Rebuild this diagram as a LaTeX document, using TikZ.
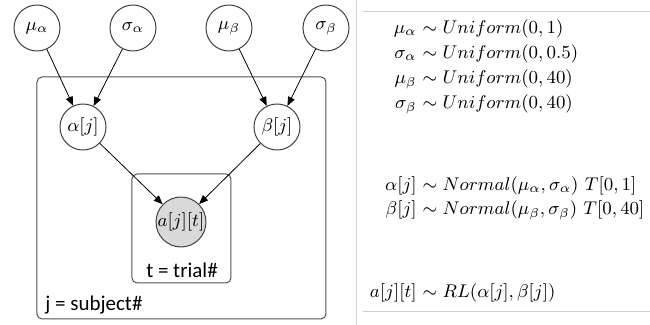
\RequirePackage{fix-cm}
\documentclass[tikz,border=0pt]{standalone}
\usepackage{fontspec}
\newfontfamily\calib{Carlito}
\usetikzlibrary{arrows.meta}
\definecolor{nodeline}{HTML}{404040}
\definecolor{platel}{HTML}{505050}
\definecolor{sepc}{HTML}{D0D0D0}
\definecolor{obsfill}{HTML}{D9D9D9}
\tikzset{
  var/.style={circle, draw=nodeline, line width=0.5pt, minimum size=23pt, inner sep=0pt, font=\fontsize{9.2}{11}\selectfont},
  obsvar/.style={var, fill=obsfill, minimum size=24.5pt},
  plate/.style={draw=platel, line width=0.5pt, rounded corners=2.5pt},
  edge/.style={-{Triangle[length=4.5pt,width=3.6pt]}, line width=0.4pt, black},
  platelabel/.style={font=\calib\fontsize{10.5}{12}\selectfont, inner sep=0pt},
  eqL/.style={anchor=base east, inner sep=0pt, font=\fontsize{9.2}{11}\selectfont},
  eqR/.style={anchor=base west, inner sep=0pt, font=\fontsize{9.2}{11}\selectfont},
  rulel/.style={draw=sepc, line width=0.5pt}
}
\begin{document}
\begin{tikzpicture}[x=0.5pt,y=-0.5pt]
\useasboundingbox (0,0) rectangle (650,325);
% plates
\draw[plate] (37,77) rectangle (326,319);
\draw[plate] (132,174) rectangle (231,283);
% nodes
\node[var] (mua) at (37,28) {$\mu_\alpha$};
\node[var] (siga) at (133,28) {$\sigma_\alpha$};
\node[var] (mub) at (229,28) {$\mu_\beta$};
\node[var] (sigb) at (326,28) {$\sigma_\beta$};
\node[var] (alpha) at (83,127) {$\alpha[j]$};
\node[var] (beta) at (277,127) {$\beta[j]$};
\node[obsvar] (act) at (181,222) {$a[j][t]$};
\node[platelabel] (tl) at (182,270) {t = trial\#};
\node[platelabel, anchor=west] (jl) at (45,305) {j = subject\#};
% edges
\draw[edge] (mua) -- (alpha);
\draw[edge] (siga) -- (alpha);
\draw[edge] (mub) -- (beta);
\draw[edge] (sigb) -- (beta);
\draw[edge] (alpha) -- (act);
\draw[edge] (beta) -- (act);
% right panel
\draw[rulel] (357,0) -- (357,325);
\draw[rulel] (363,12) -- (650,12);
\draw[rulel] (363,312) -- (650,312);
\node[eqL] (l1) at (417,33.6) {$\mu_\alpha$};
\node[eqR] (r1) at (417,33.6) {${}\sim Uniform(0,1)$};
\node[eqL] (l2) at (417,58.6) {$\sigma_\alpha$};
\node[eqR] (r2) at (417,58.6) {${}\sim Uniform(0,0.5)$};
\node[eqL] (l3) at (417,83.6) {$\mu_\beta$};
\node[eqR] (r3) at (417,83.6) {${}\sim Uniform(0,40)$};
\node[eqL] (l4) at (417,108.6) {$\sigma_\beta$};
\node[eqR] (r4) at (417,108.6) {${}\sim Uniform(0,40)$};
\node[eqL] (l5) at (417,190.6) {$\alpha[j]$};
\node[eqR] (r5) at (417,190.6) {${}\sim Normal(\mu_\alpha,\sigma_\alpha)\ T[0,1]$};
\node[eqL] (l6) at (417,214.6) {$\beta[j]$};
\node[eqR] (r6) at (417,214.6) {${}\sim Normal(\mu_\beta,\sigma_\beta)\ T[0,40]$};
\node[eqL] (l7) at (417,297.6) {$a[j][t]$};
\node[eqR] (r7) at (417,297.6) {${}\sim RL(\alpha[j],\beta[j])$};
\end{tikzpicture}
\end{document}
